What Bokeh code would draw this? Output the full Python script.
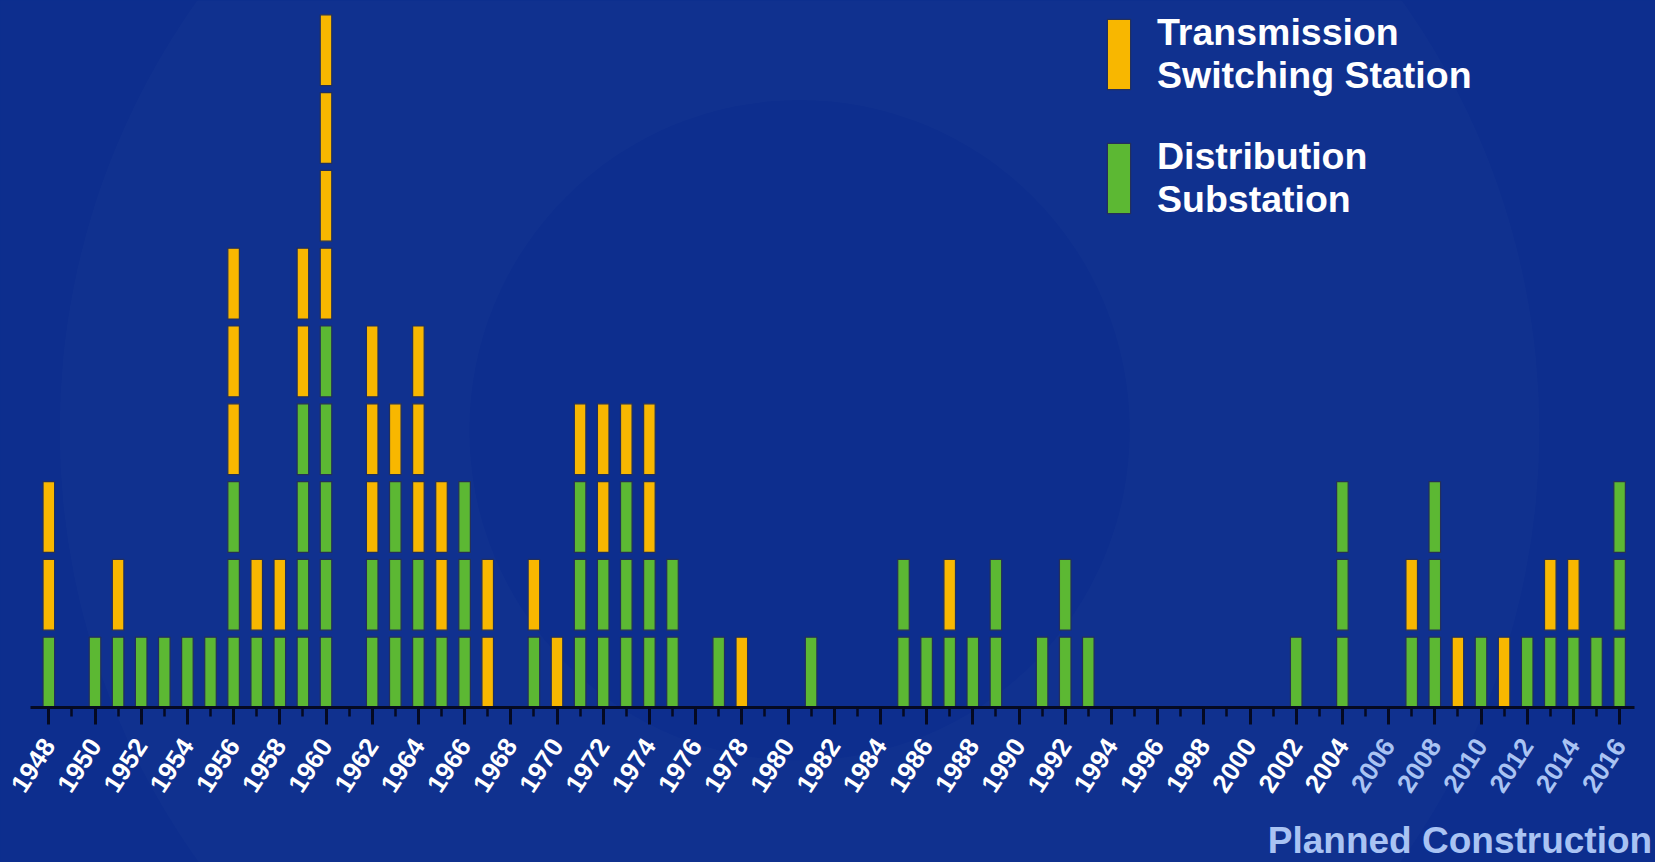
import math
from bokeh.plotting import figure
from bokeh.models import (ColumnDataSource, SingleIntervalTicker, Legend, LegendItem,
                          Label, Range1d, LinearAxis)
from bokeh.embed import file_html
from bokeh.resources import INLINE

# ---------------- data ----------------
years = list(range(1948, 2017))
distribution = [1, 0, 1, 1, 1, 1, 1, 1, 3, 1, 1, 4, 5, 0, 2, 3, 2, 1, 3, 0,   # 1948-1967
                0, 1, 0, 3, 2, 3, 2, 2, 0, 1, 0, 0, 0, 1, 0, 0, 0, 2, 1, 1,   # 1968-1987
                1, 2, 0, 1, 2, 1, 0, 0, 0, 0, 0, 0, 0, 0, 1, 0, 3, 0, 0, 1,   # 1988-2007
                3, 0, 1, 0, 1, 1, 1, 1, 3]                                     # 2008-2016
transmission = [2, 0, 0, 1, 0, 0, 0, 0, 3, 1, 1, 2, 4, 0, 3, 1, 3, 2, 0, 2,   # 1948-1967
                0, 1, 1, 1, 2, 1, 2, 0, 0, 0, 1, 0, 0, 0, 0, 0, 0, 0, 0, 1,   # 1968-1987
                0, 0, 0, 0, 0, 0, 0, 0, 0, 0, 0, 0, 0, 0, 0, 0, 0, 0, 0, 1,   # 1988-2007
                0, 1, 0, 1, 0, 1, 1, 0, 0]                                     # 2008-2016
label_years = list(range(1948, 2017, 2))
planned_years = [2006, 2008, 2010, 2012, 2014, 2016]
series_names = ["Transmission\nSwitching Station", "Distribution\nSubstation"]
note_text = "Planned Construction"

# ---------------- style ----------------
BG = "#0d2e8e"
ORANGE = "#f8b700"
GREEN = "#5cb833"
PALE = "#a9c3f3"
EDGE = "#24305a"
AXIS = "#050a22"
FONT = "Liberation Sans"
BLOCK = 0.91   # visible part of each unit block

# expand counts into unit blocks (green at the bottom, orange on top)
g = dict(x=[], bottom=[], top=[])
o = dict(x=[], bottom=[], top=[])
for yr, d, t in zip(years, distribution, transmission):
    for k in range(d):
        g["x"].append(yr); g["bottom"].append(k); g["top"].append(k + BLOCK)
    for k in range(t):
        o["x"].append(yr); o["bottom"].append(d + k); o["top"].append(d + k + BLOCK)

p = figure(width=1655, height=862,
           x_range=Range1d(1945.909, 2017.554), y_range=Range1d(-1.986, 9.094),
           output_backend="svg", toolbar_location=None,
           x_axis_location=None, y_axis_location=None,
           min_border=0)
p.background_fill_color = BG
p.border_fill_color = BG
p.outline_line_color = None
p.grid.visible = False

# very faint watermark ring of the slide background
p.annulus(x=[1980.5], y=[3.57], inner_radius=330, outer_radius=740,
          inner_radius_units="screen", outer_radius_units="screen",
          fill_color="white", fill_alpha=0.015, line_color=None)

rg = p.vbar(x="x", bottom="bottom", top="top", width=0.5, source=ColumnDataSource(g),
            fill_color=GREEN, line_color=EDGE, line_width=1.2)
ro = p.vbar(x="x", bottom="bottom", top="top", width=0.5, source=ColumnDataSource(o),
            fill_color=ORANGE, line_color=EDGE, line_width=1.2)


def make_axis(color, hidden_years, draw_line):
    ax = LinearAxis(fixed_location=0, bounds=(1947.208, 2016.65))
    ax.ticker = SingleIntervalTicker(interval=2, num_minor_ticks=2)
    ax.axis_line_color = AXIS if draw_line else None
    ax.axis_line_width = 3
    ax.major_tick_line_color = AXIS if draw_line else None
    ax.major_tick_line_width = 3
    ax.major_tick_in = 0
    ax.major_tick_out = 17
    ax.minor_tick_line_color = AXIS if draw_line else None
    ax.minor_tick_line_width = 2.5
    ax.minor_tick_in = 0
    ax.minor_tick_out = 9
    ax.major_label_standoff = 16
    ax.major_label_orientation = math.radians(57)
    ax.major_label_text_color = color
    ax.major_label_text_font = FONT
    ax.major_label_text_font_style = "bold"
    ax.major_label_text_font_size = "26px"
    ax.major_label_overrides = {yr: "" for yr in hidden_years}
    return ax


p.add_layout(make_axis("white", planned_years, True), "below")
p.add_layout(make_axis(PALE, [yr for yr in label_years if yr not in planned_years], False),
             "below")

p.add_layout(Label(x=2017.41, y=-1.973, text=note_text, text_align="right",
                   text_baseline="bottom", text_color=PALE, text_font=FONT,
                   text_font_style="bold", text_font_size="37px"))

legend = Legend(items=[LegendItem(label=series_names[0], renderers=[ro]),
                       LegendItem(label=series_names[1], renderers=[rg])],
                location=(1104, 640), orientation="vertical",
                glyph_width=29, glyph_height=88, label_standoff=24, spacing=36,
                padding=0, margin=0, background_fill_alpha=0, border_line_color=None,
                label_text_color="white", label_text_font=FONT,
                label_text_font_style="bold", label_text_font_size="37.5px",
                label_text_line_height=1.15)
p.add_layout(legend)

html = file_html(p, INLINE)
html = html.replace("<head>", "<head><style>body{background-color:%s;}</style>" % BG, 1)
open("out.html", "w").write(html)
